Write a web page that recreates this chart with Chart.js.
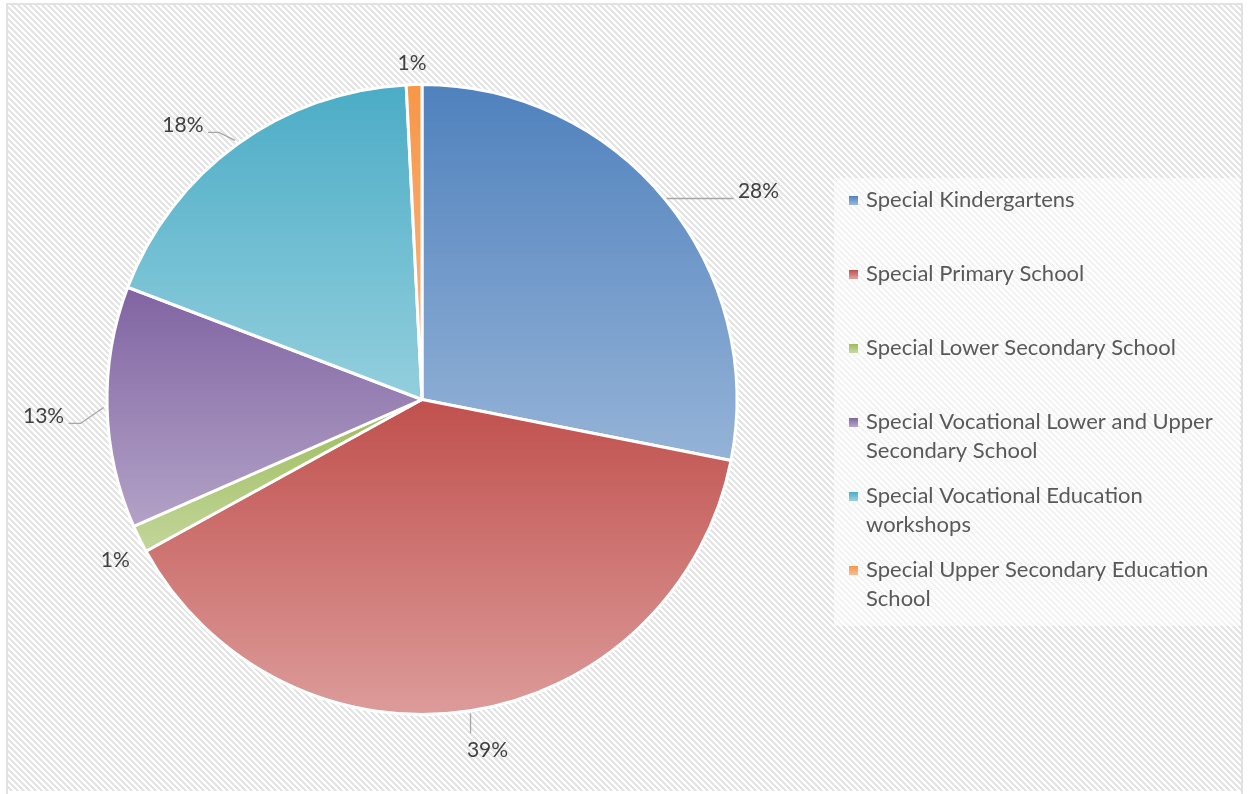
<!DOCTYPE html>
<html>
<head>
<meta charset="utf-8">
<script src="https://cdn.jsdelivr.net/npm/chart.js@4/dist/chart.umd.min.js"></script>
<style>
  html, body { margin: 0; padding: 0; background: #fff; }
  #wrap { width: 1249px; height: 794px; }
</style>
</head>
<body>
<div id="wrap"><canvas id="pie"></canvas></div>
<script>
// data (share of schools, %)
var categorias = ['Special Kindergartens', 'Special Primary School', 'Special Lower Secondary School',
  'Special Vocational Lower and Upper Secondary School', 'Special Vocational Education workshops',
  'Special Upper Secondary Education School'];
var valores = [28.1, 38.9, 1.4, 12.4, 18.4, 0.8];
var etiquetas = ['28%', '39%', '1%', '13%', '18%', '1%'];

// top / bottom colours of each slice gradient
var colorArriba = ['#4f81bd', '#c0504d', '#9bbb59', '#8064a2', '#4bacc6', '#f79646'];
var colorAbajo = ['#95b3d7', '#dc9c9a', '#c3d69b', '#b3a2c7', '#93cfdd', '#fab98a'];

// label offset from the slice edge, and leader line points (relative to edge)
var offsetEtiqueta = [[92, -7], [17, 38], [-23, 21], [-62, 9], [-53, -18], [-2, -20]];
var lineaGuia = [
  [[0, 0], [67, 0]],
  [[0, 1], [0, 21]],
  null,
  [[-2, 0], [-25, 16], [-37, 16]],
  [[-1, -3], [-17, -11], [-28, -11]],
  null
];

var fuente = 'Lato, "Open Sans", sans-serif';

// diagonal hatch background
function hacerTrama() {
  var n = 6, c = document.createElement('canvas');
  c.width = n; c.height = n;
  var g = c.getContext('2d');
  g.fillStyle = '#ffffff';
  g.fillRect(0, 0, n, n);
  g.fillStyle = '#e4e4e4';
  for (var y = 0; y < n; y++) {
    for (var x = 0; x < n; x++) {
      if ((((x - y) % n) + n) % n < 3) g.fillRect(x, y, 1, 1);
    }
  }
  return c;
}

var fondo = {
  id: 'fondo',
  beforeDraw: function(chart) {
    var ctx = chart.ctx;
    ctx.save();
    ctx.fillStyle = '#ffffff';
    ctx.fillRect(0, 0, chart.width, chart.height);
    ctx.fillStyle = ctx.createPattern(hacerTrama(), 'repeat');
    ctx.fillRect(8, 5, chart.width - 16, chart.height - 8);
    ctx.strokeStyle = '#d9d9d9';
    ctx.lineWidth = 1.5;
    ctx.strokeRect(7, 4, chart.width - 14, chart.height + 10);
    // legend box
    ctx.fillStyle = 'rgba(255,255,255,0.55)';
    ctx.fillRect(834, 178, 406, 448);
    ctx.restore();
  }
};

// bounding box (y only) of a slice, for the per-slice gradient
function limitesY(cx, cy, r, a0, a1) {
  var ys = [cy, cy + r * Math.sin(a0), cy + r * Math.sin(a1)];
  var extremos = [-Math.PI / 2, Math.PI / 2, 3 * Math.PI / 2];
  extremos.forEach(function(e) { if (e > a0 && e < a1) ys.push(cy + r * Math.sin(e)); });
  return [Math.min.apply(null, ys), Math.max.apply(null, ys)];
}

function colorRebanada(context) {
  var i = context.dataIndex;
  var chart = context.chart;
  var area = chart.chartArea;
  if (!area) return colorArriba[i];
  var cx = (area.left + area.right) / 2, cy = (area.top + area.bottom) / 2;
  var r = Math.min(area.width, area.height) / 2;
  var total = valores.reduce(function(a, b) { return a + b; }, 0);
  var acum = 0;
  for (var k = 0; k < i; k++) acum += valores[k];
  var a0 = -Math.PI / 2 + acum / total * 2 * Math.PI;
  var a1 = a0 + valores[i] / total * 2 * Math.PI;
  var lim = limitesY(cx, cy, r, a0, a1);
  var g = chart.ctx.createLinearGradient(0, lim[0], 0, lim[1]);
  g.addColorStop(0, colorArriba[i]);
  g.addColorStop(1, colorAbajo[i]);
  return g;
}

var etiquetasDatos = {
  id: 'etiquetasDatos',
  afterDatasetsDraw: function(chart) {
    var ctx = chart.ctx;
    var arcos = chart.getDatasetMeta(0).data;
    ctx.save();
    arcos.forEach(function(arc, i) {
      var p = arc.getProps(['x', 'y', 'startAngle', 'endAngle', 'outerRadius'], true);
      var medio = (p.startAngle + p.endAngle) / 2;
      var ex = p.x + Math.cos(medio) * (p.outerRadius + 1.5);
      var ey = p.y + Math.sin(medio) * (p.outerRadius + 1.5);
      if (lineaGuia[i]) {
        ctx.strokeStyle = '#a6a6a6';
        ctx.lineWidth = 1.3;
        ctx.beginPath();
        lineaGuia[i].forEach(function(pt, j) {
          if (j === 0) ctx.moveTo(ex + pt[0], ey + pt[1]);
          else ctx.lineTo(ex + pt[0], ey + pt[1]);
        });
        ctx.stroke();
      }
      ctx.fillStyle = '#404040';
      ctx.font = '21px ' + fuente;
      ctx.textAlign = 'center';
      ctx.textBaseline = 'middle';
      ctx.fillText(etiquetas[i], ex + offsetEtiqueta[i][0], ey + offsetEtiqueta[i][1]);
    });
    ctx.restore();
  }
};

// legend drawn by hand so long names can wrap
var leyenda = {
  id: 'leyenda',
  afterDraw: function(chart) {
    var ctx = chart.ctx;
    ctx.save();
    ctx.font = '22px ' + fuente;
    ctx.textBaseline = 'middle';
    ctx.textAlign = 'left';
    var x0 = 866, y0 = 200, paso = 74, alto = 29, anchoMax = 362;
    categorias.forEach(function(nombre, i) {
      var palabras = nombre.split(' '), lineas = [], actual = '';
      palabras.forEach(function(w) {
        var prueba = actual ? actual + ' ' + w : w;
        if (ctx.measureText(prueba).width > anchoMax && actual) { lineas.push(actual); actual = w; }
        else actual = prueba;
      });
      lineas.push(actual);
      var y = y0 + i * paso;
      var g = ctx.createLinearGradient(0, y - 4, 0, y + 4);
      g.addColorStop(0, colorArriba[i]);
      g.addColorStop(1, colorAbajo[i]);
      ctx.fillStyle = g;
      ctx.fillRect(849, y - 4, 9, 9);
      ctx.fillStyle = '#595959';
      lineas.forEach(function(l, j) { ctx.fillText(l, x0, y + j * alto); });
    });
    ctx.restore();
  }
};

var ctx = document.getElementById('pie').getContext('2d');
var grafico = new Chart(ctx, {
  type: 'pie',
  data: {
    labels: categorias,
    datasets: [{
      data: valores,
      backgroundColor: colorRebanada,
      borderColor: '#ffffff',
      borderWidth: 3
    }]
  },
  options: {
    responsive: true,
    maintainAspectRatio: false,
    animation: false,
    layout: { padding: { left: 105, right: 510, top: 83, bottom: 78 } },
    plugins: {
      legend: { display: false },
      tooltip: { enabled: false }
    }
  },
  plugins: [fondo, etiquetasDatos, leyenda]
});
</script>
</body>
</html>
